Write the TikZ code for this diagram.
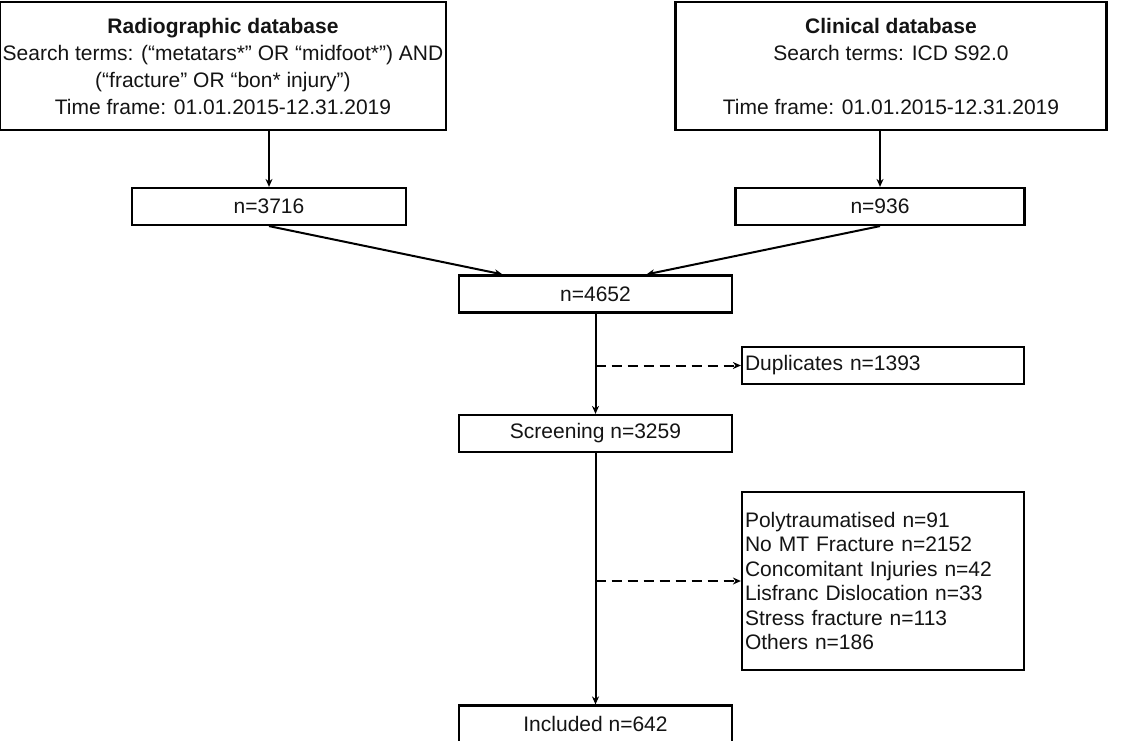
\documentclass[tikz,border=0pt]{standalone}
\usepackage{fontspec}
\setmainfont{Liberation Sans}
\usepackage{tikz}
\usetikzlibrary{arrows.meta,positioning,calc}
\definecolor{inkgray}{RGB}{20,20,20}

\begin{document}
\begin{tikzpicture}[
      x=1pt, y=-1pt,
      box/.style={rectangle, draw=black, fill=white, line width=2.2pt,
                  inner sep=3pt, align=center, text=inkgray,
                  font=\fontsize{21}{27}\selectfont},
      smallbox/.style={box, minimum height=37pt},
      listbox/.style={box, align=left, text width=276pt,
                      font=\fontsize{21}{24.5}\selectfont},
      arrow/.style={-{Stealth[length=8pt,width=7pt]}, line width=2pt, color=black},
      dasharrow/.style={arrow, dash pattern=on 10pt off 6pt}
    ]
      \useasboundingbox (0,0) rectangle (1129,741);
      %% source databases
      \node[box, minimum width=438pt, minimum height=128pt] (radio) at (223,66)
          {\textbf{Radiographic database}\\
           Search terms: (“metatars*” OR “midfoot*”) AND\\
           (“fracture” OR “bon* injury”)\\
           Time frame: 01.01.2015-12.31.2019};
      \node[box, minimum width=431pt, minimum height=128pt] (clin) at (891,66)
          {\textbf{Clinical database}\\
           Search terms: ICD S92.0\\
           \mbox{}\\
           Time frame: 01.01.2015-12.31.2019};
      \node[smallbox, minimum width=274pt] (nradio) at (269,206.5) {n=3716};
      \node[smallbox, minimum width=289pt] (nclin) at (880,206.5) {n=936};
      %% main flow
      \node[smallbox, minimum width=273pt] (merged) at (595.5,294) {n=4652};
      \node[smallbox, minimum width=273pt] (screen) at (595.5,433.5) {Screening n=3259};
      \node[smallbox, minimum width=273pt] (incl) at (595.5,724) {Included n=642};
      %% exclusions
      \node[listbox, minimum height=37pt] (dup) at (883,365.5) {Duplicates n=1393};
      \node[listbox, minimum height=178pt] (excl) at (883,581)
          {Polytraumatised n=91\\
           No MT Fracture n=2152\\
           Concomitant Injuries n=42\\
           Lisfranc Dislocation n=33\\
           Stress fracture n=113\\
           Others n=186};
      \coordinate (dupfork) at (merged.south |- dup.west);
      \coordinate (exclfork) at (merged.south |- excl.west);
      %% arrows
      \draw[arrow] (radio.south -| nradio.north) -- (nradio.north);
      \draw[arrow] (clin.south -| nclin.north) -- (nclin.north);
      \draw[arrow] (nradio.south) -- ($(merged.north)+(-93,0)$);
      \draw[arrow] (nclin.south) -- ($(merged.north)+(51,0)$);
      \draw[arrow] (merged.south) -- (screen.north);
      \draw[arrow] (screen.south) -- (incl.north);
      \draw[dasharrow] (dupfork) -- (dup.west);
      \draw[dasharrow] (exclfork) -- (excl.west);
    \end{tikzpicture}
\end{document}
